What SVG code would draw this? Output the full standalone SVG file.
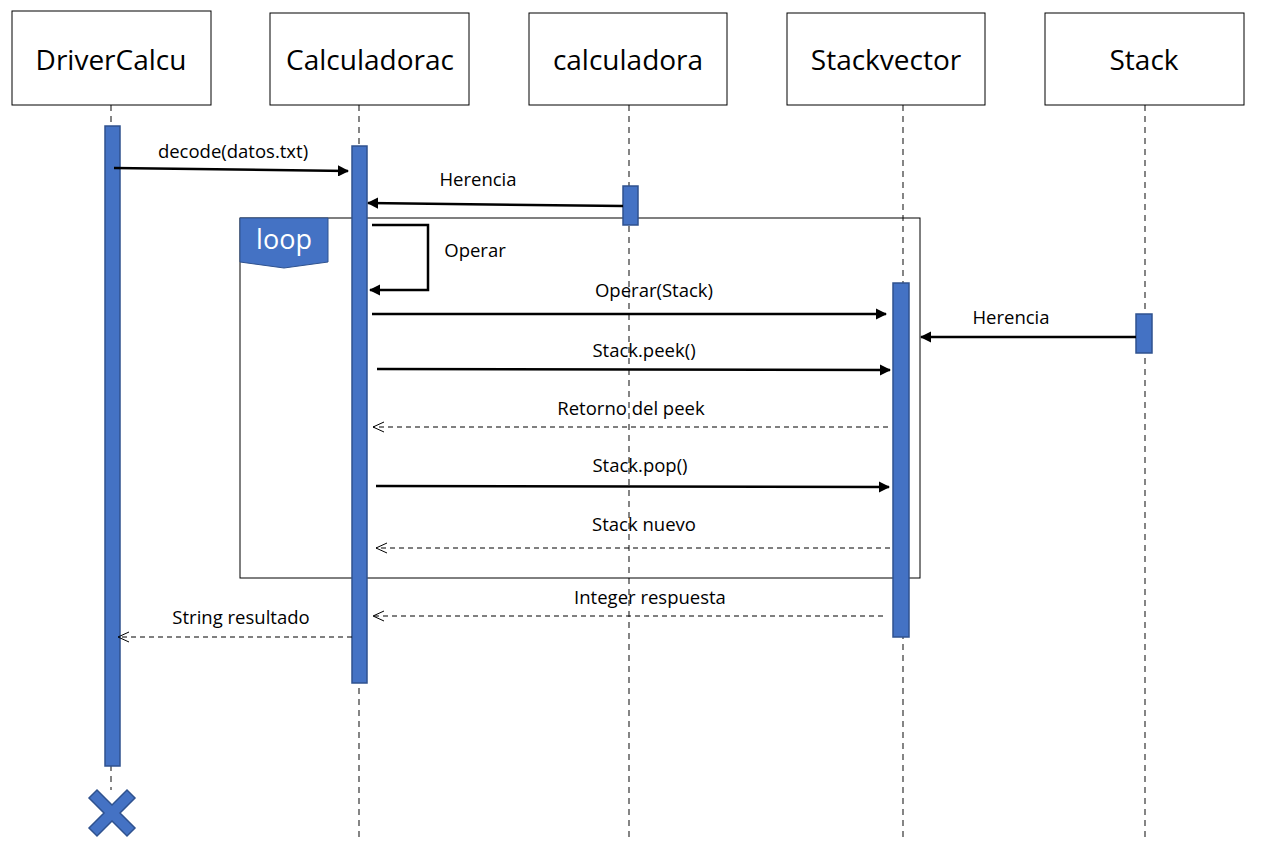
<svg xmlns="http://www.w3.org/2000/svg" width="1271" height="841" viewBox="0 0 1271 841">
<style>
.hdr{fill:#fff;stroke:#000;stroke-width:1}
.ht{font-family:"Open Sans","Liberation Sans",sans-serif;font-size:28px;text-anchor:middle;fill:#000}
.life{stroke:#444;stroke-width:1.3;stroke-dasharray:6,5;fill:none}
.act{fill:#4472C4;stroke:#2F528F;stroke-width:1.5}
.msg{stroke:#000;stroke-width:2.5;fill:none}
.ret{stroke:#000;stroke-width:1;stroke-dasharray:5,4;fill:none}
.lbl{font-family:"Open Sans","Liberation Sans",sans-serif;font-size:18.5px;text-anchor:middle;fill:#000}
</style>
<defs>
<marker id="solid" viewBox="0 0 10 10" refX="9" refY="5" markerWidth="4.5" markerHeight="4.5" orient="auto" markerUnits="strokeWidth">
<path d="M0,0 L10,5 L0,10 z" fill="#000"/>
</marker>
<marker id="open" viewBox="0 0 12 12" refX="11" refY="6" markerWidth="12" markerHeight="12" orient="auto" markerUnits="userSpaceOnUse">
<path d="M0,1 L11,6 L0,11" fill="none" stroke="#000" stroke-width="1"/>
</marker>
</defs>
<rect width="1271" height="841" fill="#fff"/>
<g id="lifelines">
<line class="life" x1="111" y1="105" x2="111" y2="790"/>
<line class="life" x1="359" y1="105" x2="359" y2="841"/>
<line class="life" x1="629" y1="105" x2="629" y2="841"/>
<line class="life" x1="903" y1="105" x2="903" y2="841"/>
<line class="life" x1="1145" y1="105" x2="1145" y2="841"/>
</g>
<g id="n-DriverCalcu"><rect class="hdr" x="12" y="11" width="199" height="94"/><text class="ht" x="111" y="70">DriverCalcu</text></g>
<g id="n-Calculadorac"><rect class="hdr" x="270" y="13" width="199" height="92"/><text class="ht" x="370" y="70">Calculadorac</text></g>
<g id="n-calculadora"><rect class="hdr" x="529" y="13" width="198" height="92"/><text class="ht" x="628" y="70">calculadora</text></g>
<g id="n-Stackvector"><rect class="hdr" x="787" y="13" width="198" height="92"/><text class="ht" x="886" y="70">Stackvector</text></g>
<g id="n-Stack"><rect class="hdr" x="1045" y="13" width="199" height="92"/><text class="ht" x="1144" y="70">Stack</text></g>
<g id="loop">
<rect x="240" y="218" width="680" height="360" fill="none" stroke="#000" stroke-width="1"/>
<path d="M240,218 L328,218 L328,262 L284,268 L240,262 Z" fill="#4472C4" stroke="#2F528F" stroke-width="1"/>
<text x="284" y="249" font-family="'Open Sans','Liberation Sans',sans-serif" font-size="27" fill="#fff" text-anchor="middle">loop</text>
</g>
<g id="activations">
<rect class="act" x="105" y="126" width="15" height="640"/>
<rect class="act" x="352" y="146" width="15" height="537"/>
<rect class="act" x="623" y="186" width="15" height="39"/>
<rect class="act" x="893" y="283" width="16" height="354"/>
<rect class="act" x="1136" y="314" width="16" height="39"/>
</g>
<g id="destroy">
<path d="M97,790 L112,805 L127,790 L135,798 L120,813 L135,828 L127,836 L112,821 L97,836 L89,828 L104,813 L89,798 Z" fill="#4472C4" stroke="#2F528F" stroke-width="1.5"/>
</g>
<g id="connectors">
<line class="msg" x1="114" y1="168" x2="348" y2="171" marker-end="url(#solid)"/>
<line class="msg" x1="623" y1="206" x2="368" y2="203" marker-end="url(#solid)"/>
<path class="msg" d="M372,225 L428,225 L428,290 L370,290" marker-end="url(#solid)"/>
<line class="msg" x1="372" y1="314" x2="886" y2="314" marker-end="url(#solid)"/>
<line class="msg" x1="1136" y1="337" x2="921" y2="337" marker-end="url(#solid)"/>
<line class="msg" x1="377" y1="369" x2="890" y2="370" marker-end="url(#solid)"/>
<line class="ret" x1="888" y1="427" x2="373" y2="427" marker-end="url(#open)"/>
<line class="msg" x1="376" y1="486" x2="889" y2="487" marker-end="url(#solid)"/>
<line class="ret" x1="890" y1="548" x2="376" y2="548" marker-end="url(#open)"/>
<line class="ret" x1="883" y1="616" x2="373" y2="616" marker-end="url(#open)"/>
<line class="ret" x1="352" y1="637" x2="118" y2="637" marker-end="url(#open)"/>
</g>
<g id="labels">
<text class="lbl" x="233" y="158">decode(datos.txt)</text>
<text class="lbl" x="478" y="186">Herencia</text>
<text class="lbl" x="475" y="257">Operar</text>
<text class="lbl" x="654" y="297">Operar(Stack)</text>
<text class="lbl" x="1011" y="324">Herencia</text>
<text class="lbl" x="644" y="357">Stack.peek()</text>
<text class="lbl" x="631" y="415">Retorno del peek</text>
<text class="lbl" x="640" y="472">Stack.pop()</text>
<text class="lbl" x="644" y="531">Stack nuevo</text>
<text class="lbl" x="650" y="604">Integer respuesta</text>
<text class="lbl" x="241" y="624">String resultado</text>
</g>
</svg>
